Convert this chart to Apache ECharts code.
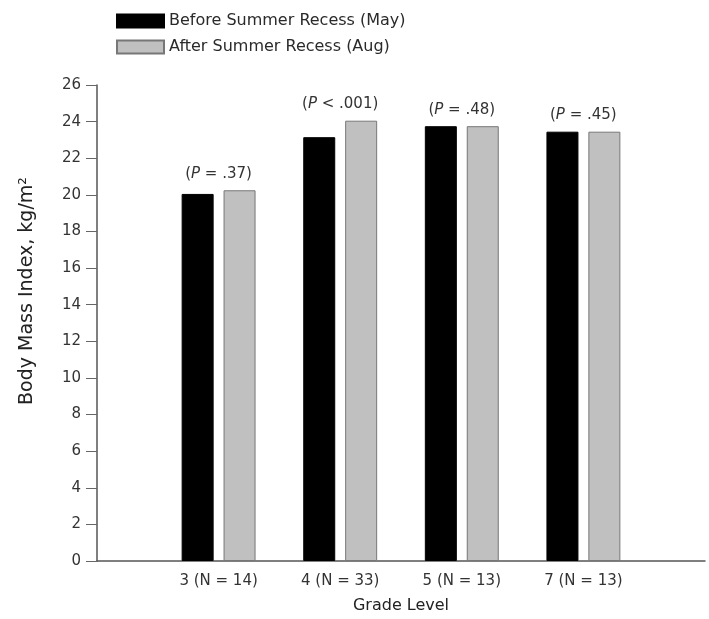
<!DOCTYPE html>
<html><head><meta charset="utf-8">
<script src="https://cdn.jsdelivr.net/npm/echarts@6/dist/echarts.min.js"></script>
<style>html,body{margin:0;padding:0;background:#fff}#c{width:709px;height:619px}</style>
</head><body><div id="c"></div>
<script>
const categories = ['', '3 (N = 14)', '4 (N = 33)', '5 (N = 13)', '7 (N = 13)', ''];
const beforeValues = [null, 20.05, 23.15, 23.75, 23.45, null];
const afterValues = [null, 20.25, 24.05, 23.75, 23.45, null];
const pLabels = ['', '({i|P} = .37)', '({i|P} < .001)', '({i|P} = .48)', '({i|P} = .45)', ''];
const yTicks = [0, 2, 4, 6, 8, 10, 12, 14, 16, 18, 20, 22, 24, 26];

const FONT = 'DejaVu Sans';
const chart = echarts.init(document.getElementById('c'));
chart.setOption({
  animation: false,
  textStyle: { fontFamily: FONT },
  legend: {
    orient: 'vertical', left: 111, top: 8, itemWidth: 47, itemHeight: 13, itemGap: 10,
    icon: 'rect',
    textStyle: { fontFamily: FONT, fontSize: 16, color: '#2a2a2a' },
    data: ['Before Summer Recess (May)', 'After Summer Recess (Aug)']
  },
  grid: { left: 97, right: 4, top: 85, bottom: 58 },
  xAxis: {
    type: 'category', data: categories, boundaryGap: false,
    axisLine: { lineStyle: { color: '#555', width: 1.5 } },
    axisTick: { show: false },
    axisLabel: { fontFamily: FONT, fontSize: 15, color: '#333', margin: 13 },
    name: 'Grade Level', nameLocation: 'middle', nameGap: 37,
    nameTextStyle: { fontFamily: FONT, fontSize: 16, color: '#222' }
  },
  yAxis: {
    type: 'value', min: yTicks[0], max: yTicks[yTicks.length - 1], interval: 2,
    axisLine: { show: true, lineStyle: { color: '#555', width: 1.5 } },
    axisTick: { show: true, length: 11, lineStyle: { color: '#666' } },
    axisLabel: { fontFamily: FONT, fontSize: 15, color: '#333', margin: 16 },
    splitLine: { show: false }
  },
  graphic: [{
    type: 'text', x: 27, y: 291, rotation: Math.PI / 2,
    style: {
      text: 'Body Mass Index, kg/m²', fontFamily: FONT, fontSize: 19, fill: '#222',
      textAlign: 'center', textVerticalAlign: 'middle', align: 'center', verticalAlign: 'middle'
    }
  }],
  series: [
    {
      name: 'Before Summer Recess (May)', type: 'bar', data: beforeValues,
      barWidth: 32, barGap: '31%',
      itemStyle: { color: '#000', borderColor: '#000', borderWidth: 1 }
    },
    {
      name: 'After Summer Recess (Aug)', type: 'bar', data: afterValues,
      barWidth: 32,
      itemStyle: { color: '#c0c0c0', borderColor: '#777', borderWidth: 1 },
      label: {
        show: true, position: 'top', distance: 9, offset: [-21, 0],
        formatter: p => pLabels[p.dataIndex],
        fontFamily: FONT, fontSize: 15, color: '#333',
        rich: { i: { fontFamily: FONT, fontSize: 15, fontStyle: 'italic', color: '#333' } }
      }
    }
  ]
});
</script></body></html>
